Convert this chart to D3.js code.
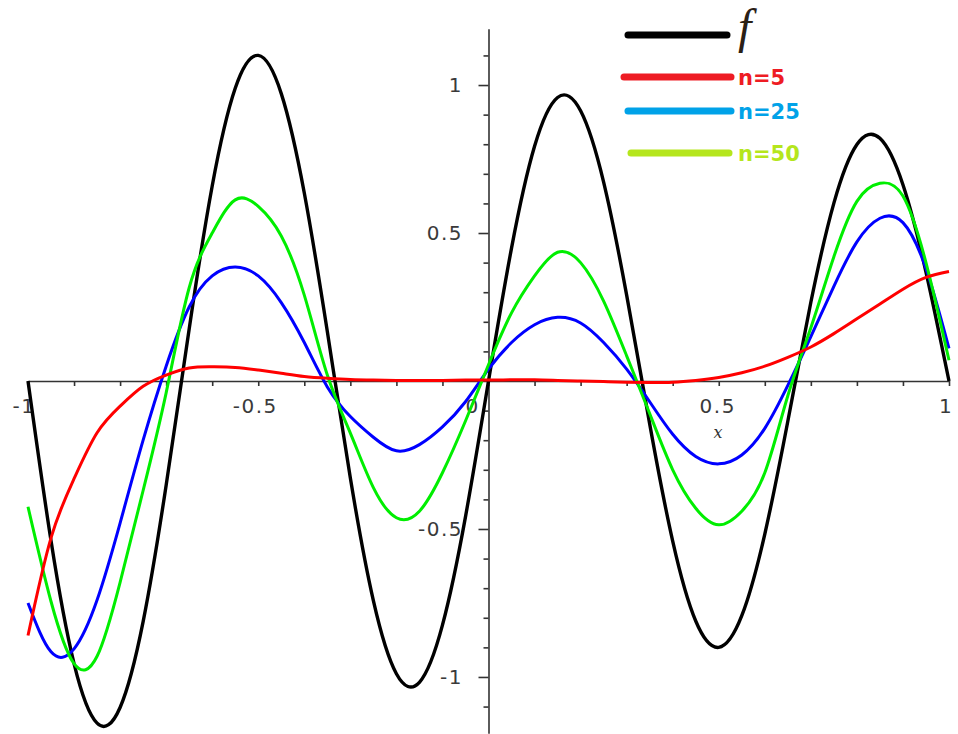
<!DOCTYPE html>
<html><head><meta charset="utf-8">
<script src="https://cdn.jsdelivr.net/npm/d3@7"></script>
<style>body{margin:0;background:#fff;overflow:hidden}</style>
</head><body>
<svg id="chart" width="958" height="734"></svg>
<script>
// ---- data ----
const xs = [-1, -0.95, -0.9, -0.85, -0.8, -0.75, -0.7, -0.65, -0.6, -0.55, -0.5,
            -0.45, -0.4, -0.35, -0.3, -0.25, -0.2, -0.15, -0.1, -0.05, 0,
            0.05, 0.1, 0.15, 0.2, 0.25, 0.3, 0.35, 0.4, 0.45, 0.5,
            0.55, 0.6, 0.65, 0.7, 0.75, 0.8, 0.85, 0.9, 0.95, 1];
const fValues = [0, -0.54, -0.955, -1.156, -1.103, -0.813, -0.352, 0.176, 0.659, 0.989, 1.10,
                 0.971, 0.635, 0.167, -0.328, -0.742, -0.989, -1.018, -0.825, -0.459, 0,
                 0.449, 0.793, 0.958, 0.913, 0.672, 0.29, -0.145, -0.541, -0.811, -0.90,
                 -0.793, -0.517, -0.136, 0.266, 0.601, 0.799, 0.820, 0.663, 0.368, 0];
const n5Values = [-0.86, -0.53, -0.33, -0.175, -0.085, -0.018, 0.02, 0.044, 0.048, 0.046, 0.037,
                  0.026, 0.015, 0.009, 0.005, 0.003, 0.002, 0.002, 0.002, 0.003, 0.003,
                  0.004, 0.004, 0.002, 0.0, -0.002, -0.004, -0.005, -0.004, 0.002, 0.012,
                  0.028, 0.05, 0.08, 0.115, 0.16, 0.21, 0.26, 0.31, 0.35, 0.37];
const n25Values = [-0.75, -0.915, -0.905, -0.74, -0.48, -0.20, 0.05, 0.25, 0.355, 0.385, 0.355,
                   0.265, 0.13, -0.02, -0.12, -0.19, -0.236, -0.215, -0.155, -0.07, 0.04,
                   0.13, 0.19, 0.215, 0.196, 0.13, 0.04, -0.07, -0.18, -0.255, -0.28,
                   -0.25, -0.16, -0.015, 0.15, 0.32, 0.47, 0.55, 0.535, 0.38, 0.11];
const n50Values = [-0.425, -0.745, -0.955, -0.93, -0.68, -0.37, -0.04, 0.315, 0.50, 0.612, 0.59,
                   0.49, 0.29, 0.02, -0.176, -0.36, -0.462, -0.44, -0.31, -0.135, 0.055,
                   0.23, 0.355, 0.435, 0.40, 0.27, 0.085, -0.11, -0.30, -0.43, -0.486,
                   -0.44, -0.31, -0.05, 0.18, 0.42, 0.607, 0.668, 0.625, 0.40, 0.07];

const xMinorTicks = [-1, -0.9, -0.8, -0.7, -0.6, -0.5, -0.4, -0.3, -0.2, -0.1, 0,
                     0.1, 0.2, 0.3, 0.4, 0.5, 0.6, 0.7, 0.8, 0.9, 1];
const xTickValues = [-1, -0.5, 0, 0.5, 1];
const xTickLabels = ["-1", "-0.5", "0", "0.5", "1"];
const yMinorTicks = [-1.1, -0.9, -0.8, -0.7, -0.6, -0.4, -0.3, -0.2, -0.1,
                     0.1, 0.2, 0.3, 0.4, 0.6, 0.7, 0.8, 0.9, 1.1];
const yTickValues = [-1, -0.5, 0.5, 1];
const yTickLabels = ["-1", "-0.5", "0.5", "1"];

const seriesNames = ["f", "n=5", "n=25", "n=50"];
const legendNames = ["f", "n=5", "n=25", "n=50"];

// ---- drawing ----
const svg = d3.select("#chart");
const x = d3.scaleLinear().domain([-1, 1]).range([28, 949]);
const y = d3.scaleLinear().domain([-1.19, 1.19]).range([733.2, 28.8]);

const axisColor = "#333";
const tickFont = "'DejaVu Sans', Verdana, sans-serif";

// x axis
const gx = svg.append("g").attr("transform", `translate(0,${y(0)})`)
  .call(d3.axisBottom(x).tickValues(xMinorTicks).tickSize(5).tickSizeOuter(0).tickFormat(""));
gx.select(".domain").attr("stroke", axisColor).attr("stroke-width", 1.6);
gx.selectAll(".tick line").attr("stroke", axisColor).attr("stroke-width", 1.6);

// y axis
const gy = svg.append("g").attr("transform", `translate(${x(0)},0)`)
  .call(d3.axisLeft(y).tickValues(yMinorTicks).tickSize(5).tickSizeOuter(0).tickFormat(""));
gy.select(".domain").attr("stroke", axisColor).attr("stroke-width", 1.6);
gy.selectAll(".tick line").attr("stroke", axisColor).attr("stroke-width", 1.6);
const gyMajor = svg.append("g").attr("transform", `translate(${x(0)},0)`)
  .call(d3.axisLeft(y).tickValues(yTickValues).tickSize(10).tickSizeOuter(0).tickFormat(""));
gyMajor.select(".domain").remove();
gyMajor.selectAll(".tick line").attr("stroke", axisColor).attr("stroke-width", 1.6);

// x tick labels
const xLabelOffsets = [-4, -3, -16, -1, -3];
svg.append("g").selectAll("text").data(xTickValues).join("text")
  .attr("x", (d, i) => x(d) + xLabelOffsets[i])
  .attr("y", 413)
  .attr("text-anchor", "middle")
  .attr("font-family", tickFont).attr("font-size", 20)
  .attr("letter-spacing", 1.5)
  .attr("fill", "#3a3a3a")
  .text((d, i) => xTickLabels[i]);

// y tick labels
svg.append("g").selectAll("text").data(yTickValues).join("text")
  .attr("x", 463)
  .attr("y", d => y(d) + 7)
  .attr("text-anchor", "end")
  .attr("font-family", tickFont).attr("font-size", 20)
  .attr("letter-spacing", 1.5)
  .attr("fill", "#3a3a3a")
  .text((d, i) => yTickLabels[i]);

// axis title x
svg.append("text").attr("x", 718).attr("y", 438)
  .attr("text-anchor", "middle")
  .attr("font-family", "'DejaVu Serif', 'Liberation Serif', serif")
  .attr("font-style", "italic").attr("font-size", 16)
  .attr("fill", "#333").text("x");

// curves
const line = d3.line()
  .x((d, i) => x(xs[i]))
  .y(d => y(d))
  .curve(d3.curveNatural);

const curveSeries = [
  {name: seriesNames[0], values: fValues, color: "#000000", width: 3.4},
  {name: seriesNames[2], values: n25Values, color: "#0000ff", width: 3},
  {name: seriesNames[3], values: n50Values, color: "#00ee00", width: 3},
  {name: seriesNames[1], values: n5Values, color: "#ff0000", width: 3}
];
svg.append("g").selectAll("path").data(curveSeries).join("path")
  .attr("d", d => line(d.values))
  .attr("fill", "none")
  .attr("stroke", d => d.color)
  .attr("stroke-width", d => d.width)
  .attr("stroke-linejoin", "round");

// legend
const legendItems = [
  {label: legendNames[0], color: "#000000", text: "#2a2016", x1: 628, x2: 727, y: 35},
  {label: legendNames[1], color: "#ee1c24", text: "#ee1c24", x1: 624, x2: 731, y: 77},
  {label: legendNames[2], color: "#00a2e8", text: "#00a2e8", x1: 628, x2: 731, y: 111},
  {label: legendNames[3], color: "#b5e61d", text: "#b5e61d", x1: 631, x2: 729, y: 153}
];
const lg = svg.append("g");
lg.selectAll("line").data(legendItems).join("line")
  .attr("x1", d => d.x1).attr("x2", d => d.x2)
  .attr("y1", d => d.y).attr("y2", d => d.y)
  .attr("stroke", d => d.color).attr("stroke-width", 7)
  .attr("stroke-linecap", "round");
lg.append("text").attr("x", 738).attr("y", 43)
  .attr("font-family", "'Liberation Serif', 'DejaVu Serif', serif")
  .attr("font-style", "italic").attr("font-size", 48)
  .attr("fill", legendItems[0].text).text(legendItems[0].label);
lg.selectAll("text.n").data(legendItems.slice(1)).join("text").attr("class", "n")
  .attr("x", 738)
  .attr("y", d => d.y + 8)
  .attr("font-family", "'DejaVu Sans', Verdana, sans-serif")
  .attr("font-weight", "bold").attr("font-size", 21)
  .attr("fill", d => d.text)
  .text(d => d.label);
</script>
</body></html>
